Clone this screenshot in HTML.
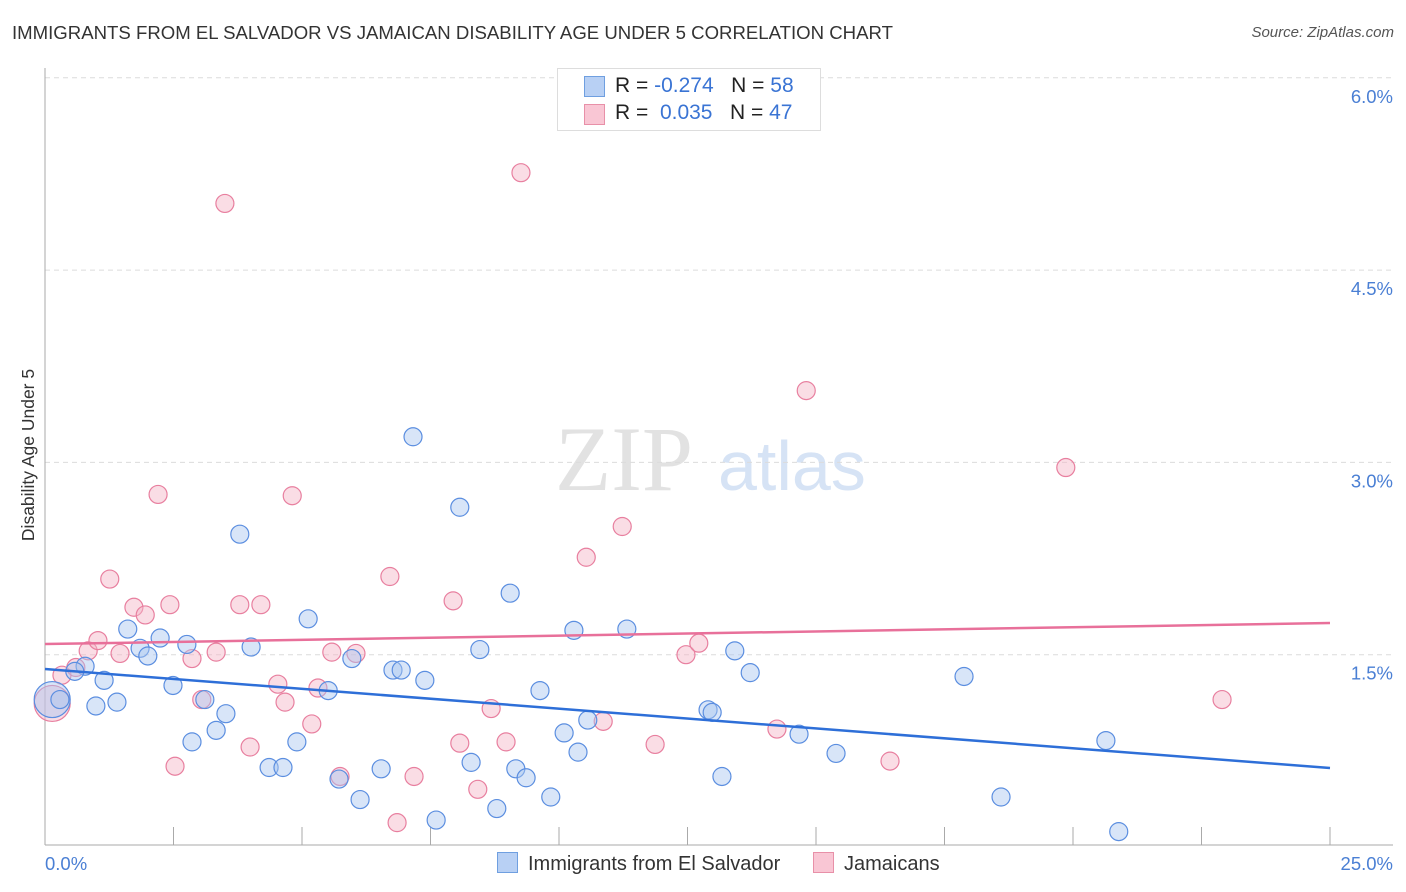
<!DOCTYPE html>
<html><head><meta charset="utf-8">
<style>
body{margin:0;background:#fff;font-family:"Liberation Sans",sans-serif;}
#wrap{position:relative;width:1406px;height:892px;overflow:hidden;}
.t{position:absolute;white-space:nowrap;}
</style></head>
<body>
<div id="wrap">
<div class="t" style="left:12px;top:22px;font-size:18.6px;color:#333;">IMMIGRANTS FROM EL SALVADOR VS JAMAICAN DISABILITY AGE UNDER 5 CORRELATION CHART</div>
<div class="t" style="right:12px;top:24px;font-size:15px;color:#555;font-style:italic;">Source: ZipAtlas.com</div>
<svg id="svg" width="1406" height="892" style="position:absolute;left:0;top:0"></svg>
</div>
<script>
const xTicksLabels=["0.0%","25.0%"];
const yTickVals=[1.5,3.0,4.5,6.0];
const blueX=[0.14,0.29,0.78,0.58,0.99,1.15,1.40,1.61,1.85,2.00,2.24,2.49,2.76,2.86,3.11,3.33,3.52,3.79,4.01,4.36,4.63,4.90,5.12,5.51,5.72,5.97,6.13,6.54,6.77,6.93,7.16,7.39,7.61,8.07,8.29,8.46,8.79,9.05,9.16,9.36,9.63,9.84,10.10,10.29,10.37,10.56,11.32,12.90,12.98,13.17,13.42,13.72,14.67,15.39,17.88,18.60,20.64,20.89];
const blueY=[1.15,1.15,1.41,1.37,1.10,1.30,1.13,1.70,1.55,1.49,1.63,1.26,1.58,0.82,1.15,0.91,1.04,2.44,1.56,0.62,0.62,0.82,1.78,1.22,0.53,1.47,0.37,0.61,1.38,1.38,3.20,1.30,0.21,2.65,0.66,1.54,0.30,1.98,0.61,0.54,1.22,0.39,0.89,1.69,0.74,0.99,1.70,1.07,1.05,0.55,1.53,1.36,0.88,0.73,1.33,0.39,0.83,0.12];
const pinkX=[0.14,0.33,0.60,0.84,1.03,1.26,1.46,1.73,1.95,2.20,2.43,2.53,2.86,3.05,3.33,3.50,3.79,3.99,4.20,4.53,4.67,4.81,5.19,5.31,5.58,5.74,6.05,6.71,6.85,7.18,7.94,8.07,8.42,8.68,8.97,9.26,10.53,10.86,11.23,11.87,12.47,12.72,14.24,14.81,16.44,19.86,22.90];
const pinkY=[1.12,1.34,1.40,1.53,1.61,2.09,1.51,1.87,1.81,2.75,1.89,0.63,1.47,1.15,1.52,5.02,1.89,0.78,1.89,1.27,1.13,2.74,0.96,1.24,1.52,0.55,1.51,2.11,0.19,0.55,1.92,0.81,0.45,1.08,0.82,5.26,2.26,0.98,2.50,0.80,1.50,1.59,0.92,3.56,0.67,2.96,1.15];
const blueTrend=[1.388,0.616];
const pinkTrend=[1.583,1.747];
const NS="http://www.w3.org/2000/svg";
const svg=document.getElementById('svg');
const X0=45,X1=1330,Y0=847,YS=128.2;
const xs=v=>X0+(X1-X0)*v/25;
const ys=v=>Y0-v*YS;
function mk(tag,at){const e=document.createElementNS(NS,tag);for(const k in at)e.setAttribute(k,at[k]);svg.appendChild(e);return e;}
let w=mk('text',{x:555,y:490,'font-size':92,fill:'#e2e2e2','font-family':'Liberation Serif, serif'});w.textContent='ZIP';


let w2=mk('text',{x:718,y:490,'font-size':70,fill:'#d6e3f5','font-family':'Liberation Sans, sans-serif'});w2.textContent='atlas';


yTickVals.forEach(v=>{
 const g=mk('line',{x1:X0,x2:1393,y1:ys(v),y2:ys(v),stroke:'#dcdcdc','stroke-dasharray':'5,4'});
 
 
 const t=mk('text',{x:1393,y:ys(v)+25,'text-anchor':'end','font-size':18.5,fill:'#4a7fd4'});t.textContent=v.toFixed(1)+'%';
 
 
});
let ax=mk('line',{x1:X0,x2:X0,y1:68,y2:845,stroke:'#aaa'});


let bx=mk('line',{x1:X0,x2:1393,y1:845,y2:845,stroke:'#aaa'});


for(let i=1;i<=10;i++){const tk=mk('line',{x1:xs(i*2.5),x2:xs(i*2.5),y1:827,y2:845,stroke:'#aaa'});
 
 }
let xl=mk('text',{x:45,y:870,'font-size':18.5,fill:'#4a7fd4'});xl.textContent=xTicksLabels[0];


let xr=mk('text',{x:1393,y:870,'font-size':18.5,fill:'#4a7fd4','text-anchor':'end'});xr.textContent=xTicksLabels[1];


let yt=mk('text',{x:34,y:455,'font-size':17.5,fill:'#333','text-anchor':'middle',transform:'rotate(-90 34 455)'});yt.textContent='Disability Age Under 5';


function pts(X,Y,fill,stroke,name){X.forEach((x,i)=>{const r=i===0?18:9;
 const c=mk('circle',{cx:xs(x),cy:ys(Y[i]),r:r,fill:fill,'fill-opacity':0.45,stroke:stroke,'stroke-width':1.2});
 
 });}
pts(pinkX,pinkY,'#f5b3c6','#e87f9f','point-jamaicans');
pts(blueX,blueY,'#a9c6f0','#5b8ee0','point-el-salvador');
let bl=mk('line',{x1:xs(0),x2:xs(25),y1:ys(blueTrend[0]),y2:ys(blueTrend[1]),stroke:'#2e6fd8','stroke-width':2.5});


let pl=mk('line',{x1:xs(0),x2:xs(25),y1:ys(pinkTrend[0]),y2:ys(pinkTrend[1]),stroke:'#e8709a','stroke-width':2.5});


</script>
<div class="t" style="left:557px;top:68px;width:262px;height:61px;border:1px solid #ddd;background:#fff;font-size:21px;">
 <div style="position:absolute;left:26px;top:7px;width:19px;height:19px;background:#b8d0f4;border:1px solid #6f9fe0;"></div>
 <div style="position:absolute;left:57px;top:5px;color:#222">R = <span style="color:#3a74d4">-0.274</span>&nbsp;&nbsp;&nbsp;N = <span style="color:#3a74d4">58</span></div>
 <div style="position:absolute;left:26px;top:35px;width:19px;height:19px;background:#f9c6d4;border:1px solid #e890a8;"></div>
 <div style="position:absolute;left:57px;top:32px;color:#222">R = &nbsp;<span style="color:#3a74d4">0.035</span>&nbsp;&nbsp;&nbsp;N = <span style="color:#3a74d4">47</span></div>
</div>
<div class="t" style="left:497px;top:852px;font-size:20px;color:#333"><span style="display:inline-block;width:19px;height:19px;background:#b8d0f4;border:1px solid #6f9fe0;vertical-align:-3px;margin-right:10px"></span>Immigrants from El Salvador</div>
<div class="t" style="left:813px;top:852px;font-size:20px;color:#333"><span style="display:inline-block;width:19px;height:19px;background:#f9c6d4;border:1px solid #e890a8;vertical-align:-3px;margin-right:10px"></span>Jamaicans</div>
</body></html>
